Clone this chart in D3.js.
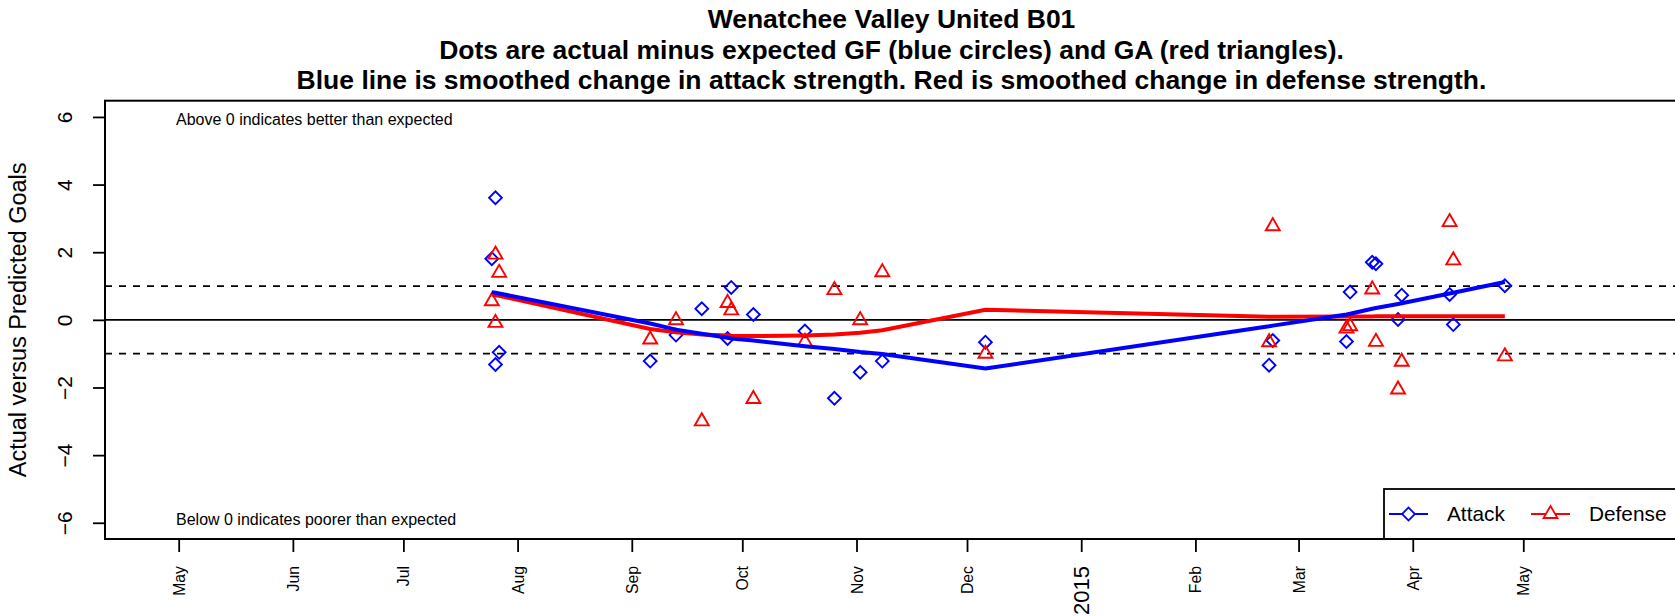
<!DOCTYPE html>
<html>
<head>
<meta charset="utf-8">
<script src="https://cdn.jsdelivr.net/npm/d3@7"></script>
<style>
  body { margin: 0; background: #fff; }
  svg { display: block; font-family: "Liberation Sans", Arial, Helvetica, sans-serif; }
</style>
</head>
<body>
<svg id="chart" width="1675" height="616"></svg>
<script>
// game dates and values
const gameDates = ["2014-07-25", "2014-07-26", "2014-07-26", "2014-07-27",
  "2014-09-06", "2014-09-13", "2014-09-20", "2014-09-27", "2014-09-28", "2014-10-04",
  "2014-10-18", "2014-10-26", "2014-11-02", "2014-11-08", "2014-12-06",
  "2015-02-21", "2015-02-22", "2015-03-14", "2015-03-15", "2015-03-21", "2015-03-22",
  "2015-03-28", "2015-03-29", "2015-04-11", "2015-04-12", "2015-04-26"];
const attackDiff = [1.81, 3.61, -1.32, -0.96, -1.22, -0.45, 0.33, -0.55, 0.96, 0.16,
  -0.33, -2.32, -1.55, -1.22, -0.66, -1.34, -0.61, -0.64, 0.82, 1.70, 1.66,
  0.01, 0.73, 0.75, -0.14, 1.01];
const defenseDiff = [0.55, 1.93, -0.09, 1.39, -0.58, -0.01, -3.00, 0.50, 0.28, -2.34,
  -0.65, 0.88, -0.01, 1.41, -1.00, -0.66, 2.77, -0.26, -0.19, 0.90, -0.65,
  -2.06, -1.24, 2.89, 1.76, -1.08];
const attackSmooth = [0.82, 0.80, 0.80, 0.78, -0.11, -0.29, -0.41, -0.53, -0.55, -0.61,
  -0.78, -0.86, -0.95, -1.01, -1.44, -0.19, -0.17, 0.16, 0.18, 0.33, 0.35,
  0.47, 0.49, 0.78, 0.80, 1.12];
const defenseSmooth = [0.75, 0.73, 0.73, 0.71, -0.27, -0.37, -0.43, -0.46, -0.47, -0.48,
  -0.46, -0.43, -0.38, -0.31, 0.30, 0.09, 0.09, 0.10, 0.10, 0.10, 0.11,
  0.11, 0.11, 0.11, 0.11, 0.11];

const monthTicks = ["2014-05-01", "2014-06-01", "2014-07-01", "2014-08-01", "2014-09-01",
  "2014-10-01", "2014-11-01", "2014-12-01", "2015-01-01", "2015-02-01", "2015-03-01",
  "2015-04-01", "2015-05-01"];
const monthLabels = ["May", "Jun", "Jul", "Aug", "Sep", "Oct", "Nov", "Dec", "2015",
  "Feb", "Mar", "Apr", "May"];
const yTicks = [-6, -4, -2, 0, 2, 4, 6];
const refLines = [-1, 0, 1];
const xRange = ["2014-04-11", "2015-06-12"];
const yRange = [-6.48, 6.48];

const titleLines = ["Wenatchee Valley United B01",
  "Dots are actual minus expected GF (blue circles) and GA (red triangles).",
  "Blue line is smoothed change in attack strength. Red is smoothed change in defense strength."];

const parse = d3.timeParse("%Y-%m-%d");
const plotL = 105, plotR = 1678, plotT = 100.7, plotB = 539;

const svg = d3.select("#chart");

const x = d3.scaleTime().domain(xRange.map(parse)).range([plotL, plotR]);
const y = d3.scaleLinear().domain(yRange).range([plotB, plotT]);

// title
svg.append("g").selectAll("text")
  .data(titleLines)
  .enter().append("text")
  .attr("x", (plotL + plotR) / 2)
  .attr("y", (d, i) => 28 + i * 30.5)
  .attr("text-anchor", "middle")
  .style("font-weight", "bold")
  .style("font-size", "26.5px")
  .text(d => d);

// y label
svg.append("text")
  .attr("transform", "translate(18," + ((plotT + plotB) / 2) + ") rotate(-90)")
  .attr("text-anchor", "middle")
  .attr("dy", "0.35em")
  .style("font-size", "23.5px")
  .text("Actual versus Predicted Goals");

// reference lines
svg.append("g").selectAll("line")
  .data(refLines)
  .enter().append("line")
  .attr("x1", plotL).attr("x2", plotR)
  .attr("y1", d => y(d)).attr("y2", d => y(d))
  .attr("stroke", "#000")
  .attr("stroke-width", 1.7)
  .attr("stroke-dasharray", d => d === 0 ? null : "7,7");

const games = gameDates.map((d, i) => ({
  date: parse(d),
  att: attackDiff[i], def: defenseDiff[i],
  attS: attackSmooth[i], defS: defenseSmooth[i]
}));

const diamond = d3.symbol().type(d3.symbolSquare).size(82);
const triangle = d3.symbol().type(d3.symbolTriangle).size(84);

svg.append("g").selectAll("path")
  .data(games)
  .enter().append("path")
  .attr("d", diamond)
  .attr("transform", d => "translate(" + x(d.date) + "," + y(d.att) + ") rotate(45)")
  .attr("fill", "none")
  .attr("stroke", "blue")
  .attr("stroke-width", 1.9);

svg.append("g").selectAll("path")
  .data(games)
  .enter().append("path")
  .attr("d", triangle)
  .attr("transform", d => "translate(" + x(d.date) + "," + y(d.def) + ")")
  .attr("fill", "none")
  .attr("stroke", "red")
  .attr("stroke-width", 1.9);

// smoothed lines
const lineDef = d3.line().x(d => x(d.date)).y(d => y(d.defS));
const lineAtt = d3.line().x(d => x(d.date)).y(d => y(d.attS));

svg.append("path")
  .datum(games)
  .attr("d", lineDef)
  .attr("fill", "none")
  .attr("stroke", "red")
  .attr("stroke-width", 4);

svg.append("path")
  .datum(games)
  .attr("d", lineAtt)
  .attr("fill", "none")
  .attr("stroke", "blue")
  .attr("stroke-width", 4);

// notes
svg.append("text")
  .attr("x", 176).attr("y", 119).attr("dy", "0.35em")
  .style("font-size", "16px")
  .text("Above 0 indicates better than expected");
svg.append("text")
  .attr("x", 176).attr("y", 519).attr("dy", "0.35em")
  .style("font-size", "16px")
  .text("Below 0 indicates poorer than expected");

// legend
const legend = svg.append("g").attr("transform", "translate(1384,489)");
legend.append("rect")
  .attr("width", 320).attr("height", plotB - 489)
  .attr("fill", "#fff")
  .attr("stroke", "#000")
  .attr("stroke-width", 1.8);

const legendItems = [
  { name: "Attack", color: "blue", sym: diamond, rot: 45, x0: 5 },
  { name: "Defense", color: "red", sym: triangle, rot: 0, x0: 147 }
];
const item = legend.selectAll("g.item")
  .data(legendItems)
  .enter().append("g")
  .attr("class", "item")
  .attr("transform", d => "translate(" + d.x0 + ",25)");
item.append("line")
  .attr("x1", 0).attr("x2", 39)
  .attr("stroke", d => d.color)
  .attr("stroke-width", 2);
item.append("path")
  .attr("d", d => d.sym())
  .attr("transform", d => "translate(19.5,0) rotate(" + d.rot + ")")
  .attr("fill", "#fff")
  .attr("stroke", d => d.color)
  .attr("stroke-width", 1.8);
item.append("text")
  .attr("x", 58)
  .attr("dy", "0.35em")
  .style("font-size", "20.8px")
  .text(d => d.name);

// axes
const yAxis = d3.axisLeft(y).tickValues(yTicks).tickSize(12).tickSizeOuter(0);
const gy = svg.append("g")
  .attr("transform", "translate(" + plotL + ",0)")
  .call(yAxis);
gy.select(".domain").remove();
gy.selectAll(".tick line").attr("stroke-width", 1.8);
gy.selectAll(".tick text")
  .attr("transform", "rotate(-90)")
  .attr("x", 0).attr("y", -40).attr("dy", "0.35em")
  .attr("text-anchor", "middle")
  .style("font-size", "21px");

const xAxis = d3.axisBottom(x)
  .tickValues(monthTicks.map(parse))
  .tickFormat((d, i) => monthLabels[i])
  .tickSize(13).tickSizeOuter(0);
const gx = svg.append("g")
  .attr("transform", "translate(0," + plotB + ")")
  .call(xAxis);
gx.select(".domain").remove();
gx.selectAll(".tick line").attr("stroke-width", 1.8);
gx.selectAll(".tick text")
  .attr("transform", "rotate(-90)")
  .attr("x", -27).attr("y", 0).attr("dy", "0.35em")
  .attr("text-anchor", "end")
  .style("font-size", d => d.getMonth() === 0 ? "22px" : "15.8px");
svg.selectAll(".tick text").attr("font-family", null).attr("font-size", null);
gx.attr("font-family", null); gy.attr("font-family", null);

// plot frame
svg.append("rect")
  .attr("x", plotL).attr("y", plotT)
  .attr("width", plotR - plotL).attr("height", plotB - plotT)
  .attr("fill", "none")
  .attr("stroke", "#000")
  .attr("stroke-width", 2);
</script>
</body>
</html>
